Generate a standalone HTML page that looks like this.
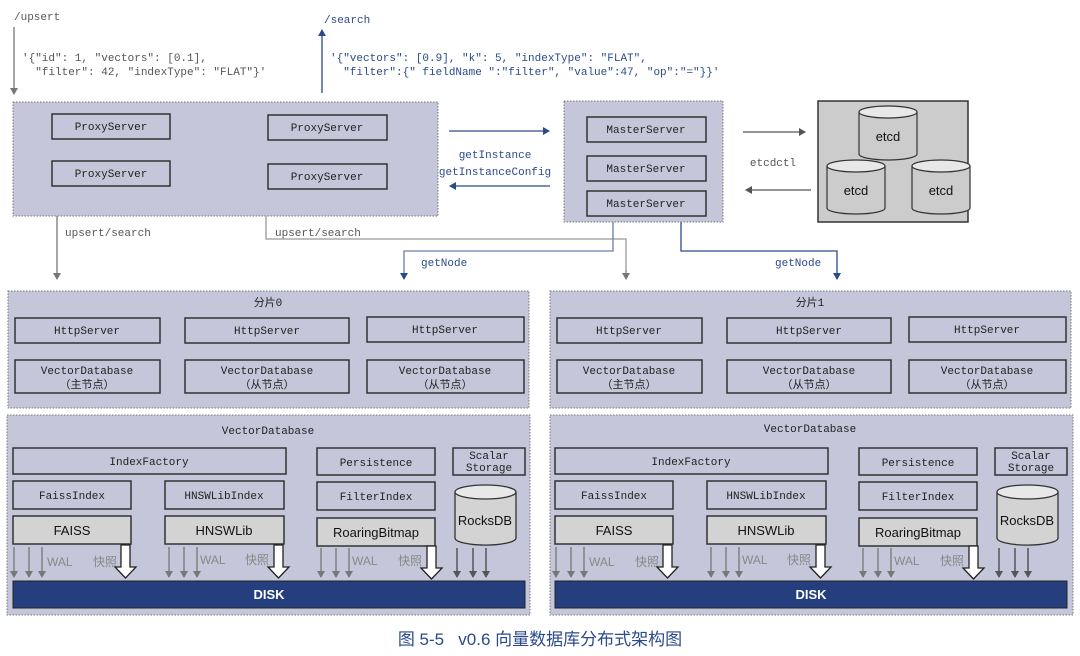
<!DOCTYPE html>
<html><head><meta charset="utf-8"><style>
html,body{margin:0;padding:0;background:#fff;}
svg{display:block;}
.m{font-family:"Liberation Mono","DejaVu Sans Mono","Noto Sans CJK SC",monospace;font-size:11px;fill:#222;}
.g{font-family:"Liberation Mono","DejaVu Sans Mono",monospace;font-size:11px;fill:#555;}
.b{font-family:"Liberation Mono","DejaVu Sans Mono",monospace;font-size:11px;fill:#2b4a8a;}
.s{font-family:"Liberation Sans","Noto Sans CJK SC",sans-serif;font-size:13px;fill:#111;}
.w{font-family:"Liberation Sans","Noto Sans CJK SC",sans-serif;font-size:12px;fill:#888;}
.panel{fill:#c5c6d9;stroke:#777;stroke-width:1;stroke-dasharray:1.5 1.5;}
.box{fill:none;stroke:#333;stroke-width:1.5;}
.gbox{fill:#d3d3d3;stroke:#333;stroke-width:1.5;}
.ga{stroke:#777;stroke-width:1.3;fill:none;}
.ba{stroke:#2b4a8a;stroke-width:1.3;fill:none;}
</style></head><body>
<svg width="1080" height="656" viewBox="0 0 1080 656" xmlns="http://www.w3.org/2000/svg">
<defs>
<marker id="ag" markerWidth="8" markerHeight="8" refX="6" refY="4" orient="auto" markerUnits="userSpaceOnUse"><path d="M0,0 L7,4 L0,8 z" fill="#777"/></marker>
<marker id="ab" markerWidth="8" markerHeight="8" refX="6" refY="4" orient="auto" markerUnits="userSpaceOnUse"><path d="M0,0 L7,4 L0,8 z" fill="#2b4a8a"/></marker>
<marker id="ad" markerWidth="8" markerHeight="8" refX="6" refY="4" orient="auto" markerUnits="userSpaceOnUse"><path d="M0,0 L7,4 L0,8 z" fill="#555"/></marker>
</defs>

<!-- top text -->
<text class="g" x="14" y="20">/upsert</text>
<line class="ga" x1="14" y1="27" x2="14" y2="94" marker-end="url(#ag)"/>
<text class="g" x="22" y="61" xml:space="preserve">'{"id": 1, "vectors": [0.1],</text>
<text class="g" x="22" y="75" xml:space="preserve">  "filter": 42, "indexType": "FLAT"}'</text>

<line class="ba" x1="322" y1="93" x2="322" y2="30" marker-end="url(#ab)"/>
<text class="b" x="324" y="23">/search</text>
<text class="b" x="330" y="61" xml:space="preserve">'{"vectors": [0.9], "k": 5, "indexType": "FLAT",</text>
<text class="b" x="330" y="75" xml:space="preserve">  "filter":{" fieldName ":"filter", "value":47, "op":"="}}'</text>

<!-- proxy container -->
<rect class="panel" x="13" y="102" width="425" height="114"/>
<rect class="box" x="52" y="114" width="118" height="25"/><text class="m" x="111" y="130" text-anchor="middle">ProxyServer</text>
<rect class="box" x="268" y="115" width="119" height="25"/><text class="m" x="327" y="131" text-anchor="middle">ProxyServer</text>
<rect class="box" x="52" y="161" width="118" height="25"/><text class="m" x="111" y="177" text-anchor="middle">ProxyServer</text>
<rect class="box" x="268" y="164" width="119" height="25"/><text class="m" x="327" y="180" text-anchor="middle">ProxyServer</text>

<!-- getInstance -->
<line class="ba" x1="449" y1="131" x2="549" y2="131" marker-end="url(#ab)"/>
<line class="ba" x1="550" y1="186" x2="450" y2="186" marker-end="url(#ab)"/>
<text class="b" x="495" y="158" text-anchor="middle">getInstance</text>
<text class="b" x="495" y="175" text-anchor="middle">getInstanceConfig</text>

<!-- master container -->
<rect class="panel" x="564" y="101" width="159" height="121"/>
<rect class="box" x="587" y="117" width="119" height="25"/><text class="m" x="646" y="133" text-anchor="middle">MasterServer</text>
<rect class="box" x="587" y="156" width="119" height="25"/><text class="m" x="646" y="172" text-anchor="middle">MasterServer</text>
<rect class="box" x="587" y="191" width="119" height="25"/><text class="m" x="646" y="207" text-anchor="middle">MasterServer</text>

<!-- etcd -->
<line x1="743" y1="132" x2="805" y2="132" stroke="#555" stroke-width="1.3" marker-end="url(#ad)"/>
<line x1="811" y1="190" x2="746" y2="190" stroke="#555" stroke-width="1.3" marker-end="url(#ad)"/>
<text class="g" x="773" y="166" text-anchor="middle">etcdctl</text>
<rect x="818" y="101" width="150" height="121" fill="#cccccc" stroke="#333" stroke-width="1.5"/>
<g fill="#cccccc" stroke="#333" stroke-width="1.2">
<path d="M859,112 v42 a29,6 0 0 0 58,0 v-42"/><ellipse cx="888" cy="112" rx="29" ry="6" fill="#e8e8e8"/>
<path d="M827,166 v42 a29,6 0 0 0 58,0 v-42"/><ellipse cx="856" cy="166" rx="29" ry="6" fill="#e8e8e8"/>
<path d="M912,166 v42 a29,6 0 0 0 58,0 v-42"/><ellipse cx="941" cy="166" rx="29" ry="6" fill="#e8e8e8"/>
</g>
<text class="s" x="888" y="141" text-anchor="middle">etcd</text>
<text class="s" x="856" y="195" text-anchor="middle">etcd</text>
<text class="s" x="941" y="195" text-anchor="middle">etcd</text>

<!-- connectors -->
<line class="ga" x1="57" y1="216" x2="57" y2="279" marker-end="url(#ag)"/>
<text class="g" x="65" y="236">upsert/search</text>
<polyline class="ga" points="266,216 266,239 626,239 626,279" style="stroke:#999"/>
<line x1="626" y1="270" x2="626" y2="279" stroke="#777" marker-end="url(#ag)"/>
<text class="g" x="275" y="236">upsert/search</text>
<polyline class="ba" points="613,222 613,251 404,251 404,279" marker-end="url(#ab)" style="stroke:#6a7fb0"/>
<text class="b" x="421" y="266">getNode</text>
<polyline class="ba" points="681,222 681,251 837,251 837,279" marker-end="url(#ab)"/>
<text class="b" x="775" y="266">getNode</text>

<!-- LEFT SIDE -->
<g id="L">
<rect class="panel" x="8" y="291" width="521" height="117"/>
<text class="m" x="268" y="306" text-anchor="middle">分片0</text>
<rect class="box" x="15" y="318" width="145" height="25"/><text class="m" x="87" y="334" text-anchor="middle">HttpServer</text>
<rect class="box" x="185" y="318" width="164" height="25"/><text class="m" x="267" y="334" text-anchor="middle">HttpServer</text>
<rect class="box" x="367" y="317" width="157" height="25"/><text class="m" x="445" y="333" text-anchor="middle">HttpServer</text>
<rect class="box" x="15" y="360" width="145" height="33"/><text class="m" x="87" y="374" text-anchor="middle">VectorDatabase</text><text class="m" x="87" y="388" text-anchor="middle">（主节点）</text>
<rect class="box" x="185" y="360" width="164" height="33"/><text class="m" x="267" y="374" text-anchor="middle">VectorDatabase</text><text class="m" x="267" y="388" text-anchor="middle">（从节点）</text>
<rect class="box" x="367" y="360" width="157" height="33"/><text class="m" x="445" y="374" text-anchor="middle">VectorDatabase</text><text class="m" x="445" y="388" text-anchor="middle">（从节点）</text>

<rect class="panel" x="7" y="415" width="523" height="200"/>
<text class="m" x="268" y="434" text-anchor="middle">VectorDatabase</text>
<rect class="box" x="13" y="448" width="273" height="26"/><text class="m" x="149" y="465" text-anchor="middle">IndexFactory</text>
<rect class="box" x="317" y="448" width="118" height="27"/><text class="m" x="376" y="466" text-anchor="middle">Persistence</text>
<rect class="box" x="453" y="448" width="72" height="27"/><text class="m" x="489" y="459" text-anchor="middle">Scalar</text><text class="m" x="489" y="471" text-anchor="middle">Storage</text>
<rect class="box" x="13" y="481" width="118" height="28"/><text class="m" x="72" y="499" text-anchor="middle">FaissIndex</text>
<rect class="box" x="165" y="481" width="119" height="28"/><text class="m" x="224" y="499" text-anchor="middle">HNSWLibIndex</text>
<rect class="box" x="317" y="482" width="118" height="28"/><text class="m" x="376" y="500" text-anchor="middle">FilterIndex</text>
<rect class="gbox" x="13" y="516" width="118" height="28"/><text class="s" x="72" y="535" text-anchor="middle">FAISS</text>
<rect class="gbox" x="165" y="516" width="119" height="28"/><text class="s" x="224" y="535" text-anchor="middle">HNSWLib</text>
<rect class="gbox" x="317" y="518" width="118" height="28"/><text class="s" x="376" y="537" text-anchor="middle">RoaringBitmap</text>
<path d="M455,492 v46 a30,7 0 0 0 61,0 v-46" fill="#d3d3d3" stroke="#333" stroke-width="1.3"/>
<ellipse cx="485.5" cy="492" rx="30.5" ry="7" fill="#e8e8e8" stroke="#333" stroke-width="1.3"/>
<text class="s" x="485" y="525" text-anchor="middle">RocksDB</text>

<g class="ga" marker-end="url(#ag)">
<line x1="14" y1="547" x2="14" y2="577"/><line x1="29" y1="547" x2="29" y2="577"/><line x1="42" y1="547" x2="42" y2="577"/>
<line x1="169" y1="547" x2="169" y2="577"/><line x1="184" y1="547" x2="184" y2="577"/><line x1="197" y1="547" x2="197" y2="577"/>
<line x1="321" y1="548" x2="321" y2="577"/><line x1="336" y1="548" x2="336" y2="577"/><line x1="349" y1="548" x2="349" y2="577"/>
</g>
<g stroke="#444" stroke-width="1.3" marker-end="url(#ad)">
<line x1="457" y1="548" x2="457" y2="577"/><line x1="473" y1="548" x2="473" y2="577"/><line x1="486" y1="548" x2="486" y2="577"/>
</g>
<text class="w" x="47" y="566">WAL</text><text class="w" x="93" y="566">快照</text>
<text class="w" x="200" y="564">WAL</text><text class="w" x="245" y="564">快照</text>
<text class="w" x="352" y="565">WAL</text><text class="w" x="398" y="565">快照</text>
<g fill="#fff" stroke="#222" stroke-width="1.3">
<path d="M121,545 h9 v22 h6 l-10.5,11 l-10.5,-11 h6 z"/>
<path d="M274,545 h9 v22 h6 l-10.5,11 l-10.5,-11 h6 z"/>
<path d="M427,546 h9 v22 h6 l-10.5,11 l-10.5,-11 h6 z"/>
</g>
<rect x="13" y="581" width="512" height="27" fill="#253f7e" stroke="#222" stroke-width="1"/>
<text x="269" y="599" text-anchor="middle" font-family="Liberation Sans,sans-serif" font-size="13" font-weight="bold" fill="#fff">DISK</text>
</g>

<!-- RIGHT SIDE -->
<g transform="translate(542,0)">
<rect class="panel" x="8" y="291" width="521" height="117"/>
<text class="m" x="268" y="306" text-anchor="middle">分片1</text>
<rect class="box" x="15" y="318" width="145" height="25"/><text class="m" x="87" y="334" text-anchor="middle">HttpServer</text>
<rect class="box" x="185" y="318" width="164" height="25"/><text class="m" x="267" y="334" text-anchor="middle">HttpServer</text>
<rect class="box" x="367" y="317" width="157" height="25"/><text class="m" x="445" y="333" text-anchor="middle">HttpServer</text>
<rect class="box" x="15" y="360" width="145" height="33"/><text class="m" x="87" y="374" text-anchor="middle">VectorDatabase</text><text class="m" x="87" y="388" text-anchor="middle">（主节点）</text>
<rect class="box" x="185" y="360" width="164" height="33"/><text class="m" x="267" y="374" text-anchor="middle">VectorDatabase</text><text class="m" x="267" y="388" text-anchor="middle">（从节点）</text>
<rect class="box" x="367" y="360" width="157" height="33"/><text class="m" x="445" y="374" text-anchor="middle">VectorDatabase</text><text class="m" x="445" y="388" text-anchor="middle">（从节点）</text>

<rect class="panel" x="8" y="415" width="523" height="200"/>
<text class="m" x="268" y="432" text-anchor="middle">VectorDatabase</text>
<rect class="box" x="13" y="448" width="273" height="26"/><text class="m" x="149" y="465" text-anchor="middle">IndexFactory</text>
<rect class="box" x="317" y="448" width="118" height="27"/><text class="m" x="376" y="466" text-anchor="middle">Persistence</text>
<rect class="box" x="453" y="448" width="72" height="27"/><text class="m" x="489" y="459" text-anchor="middle">Scalar</text><text class="m" x="489" y="471" text-anchor="middle">Storage</text>
<rect class="box" x="13" y="481" width="118" height="28"/><text class="m" x="72" y="499" text-anchor="middle">FaissIndex</text>
<rect class="box" x="165" y="481" width="119" height="28"/><text class="m" x="224" y="499" text-anchor="middle">HNSWLibIndex</text>
<rect class="box" x="317" y="482" width="118" height="28"/><text class="m" x="376" y="500" text-anchor="middle">FilterIndex</text>
<rect class="gbox" x="13" y="516" width="118" height="28"/><text class="s" x="72" y="535" text-anchor="middle">FAISS</text>
<rect class="gbox" x="165" y="516" width="119" height="28"/><text class="s" x="224" y="535" text-anchor="middle">HNSWLib</text>
<rect class="gbox" x="317" y="518" width="118" height="28"/><text class="s" x="376" y="537" text-anchor="middle">RoaringBitmap</text>
<path d="M455,492 v46 a30,7 0 0 0 61,0 v-46" fill="#d3d3d3" stroke="#333" stroke-width="1.3"/>
<ellipse cx="485.5" cy="492" rx="30.5" ry="7" fill="#e8e8e8" stroke="#333" stroke-width="1.3"/>
<text class="s" x="485" y="525" text-anchor="middle">RocksDB</text>

<g class="ga" marker-end="url(#ag)">
<line x1="14" y1="547" x2="14" y2="577"/><line x1="29" y1="547" x2="29" y2="577"/><line x1="42" y1="547" x2="42" y2="577"/>
<line x1="169" y1="547" x2="169" y2="577"/><line x1="184" y1="547" x2="184" y2="577"/><line x1="197" y1="547" x2="197" y2="577"/>
<line x1="321" y1="548" x2="321" y2="577"/><line x1="336" y1="548" x2="336" y2="577"/><line x1="349" y1="548" x2="349" y2="577"/>
</g>
<g stroke="#444" stroke-width="1.3" marker-end="url(#ad)">
<line x1="457" y1="548" x2="457" y2="577"/><line x1="473" y1="548" x2="473" y2="577"/><line x1="486" y1="548" x2="486" y2="577"/>
</g>
<text class="w" x="47" y="566">WAL</text><text class="w" x="93" y="566">快照</text>
<text class="w" x="200" y="564">WAL</text><text class="w" x="245" y="564">快照</text>
<text class="w" x="352" y="565">WAL</text><text class="w" x="398" y="565">快照</text>
<g fill="#fff" stroke="#222" stroke-width="1.3">
<path d="M121,545 h9 v22 h6 l-10.5,11 l-10.5,-11 h6 z"/>
<path d="M274,545 h9 v22 h6 l-10.5,11 l-10.5,-11 h6 z"/>
<path d="M427,546 h9 v22 h6 l-10.5,11 l-10.5,-11 h6 z"/>
</g>
<rect x="13" y="581" width="512" height="27" fill="#253f7e" stroke="#222" stroke-width="1"/>
<text x="269" y="599" text-anchor="middle" font-family="Liberation Sans,sans-serif" font-size="13" font-weight="bold" fill="#fff">DISK</text>
</g>

<text x="540" y="645" text-anchor="middle" font-family="Liberation Sans,'Noto Sans CJK SC',sans-serif" font-size="17" fill="#2b4a8a" xml:space="preserve">图 5-5   v0.6 向量数据库分布式架构图</text>
</svg>
</body></html>
